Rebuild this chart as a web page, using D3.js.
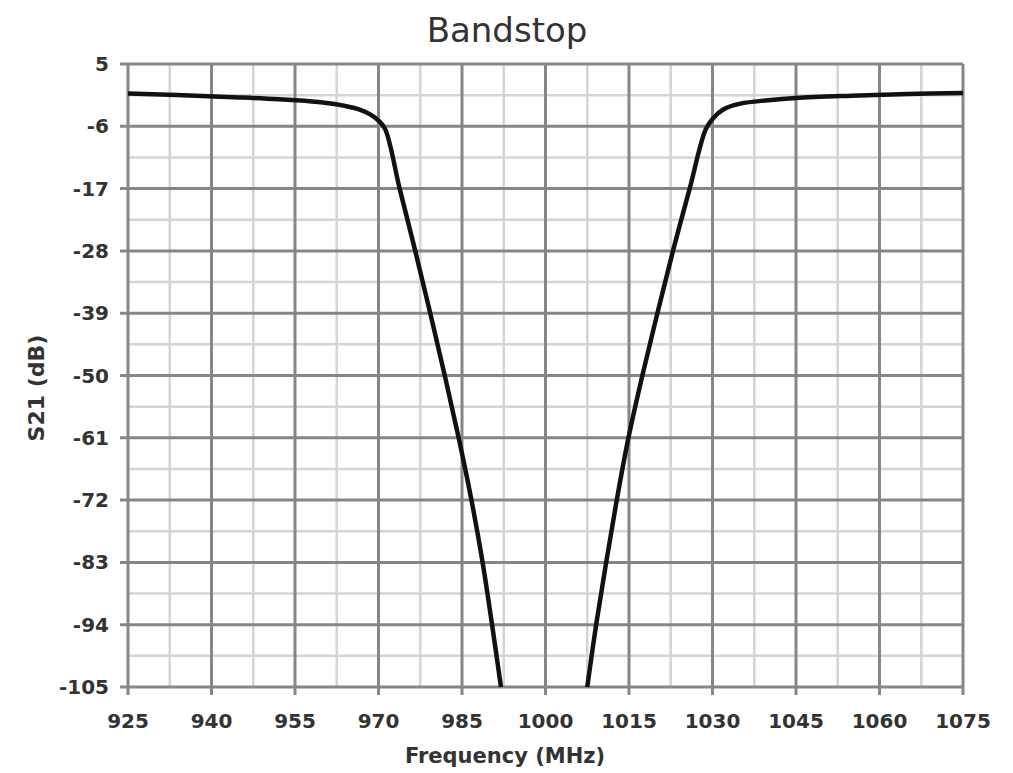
<!DOCTYPE html>
<html lang="en">
  <head>
    <meta charset="utf-8" />
    <title>Bandstop</title>
    <script src="https://d3js.org/d3.v7.min.js"></script>
    <style>
      body { margin: 0; background: #fff; }
      text { font-family: "DejaVu Sans", sans-serif; fill: #333; }
    </style>
  </head>
  <body>
    <svg id="chart" width="1013" height="773"></svg>
    <script>
    // data
    var freqs = [925, 935, 945, 955, 960, 964, 966.5, 968.5, 970, 971.2, 973.8, 976.6, 979.3, 981.9, 984.4, 986.7, 988.7, 990.4, 992];
    var s21 = [-0.2, -0.5, -0.9, -1.4, -1.8, -2.4, -3.0, -3.9, -5.0, -6.5, -17, -28, -39, -50, -61, -72, -83, -94, -105];
    var freqsHi = [1007.5, 1009.1, 1010.9, 1012.8, 1014.9, 1017.4, 1020.1, 1022.9, 1025.9, 1028.8, 1030.2, 1032, 1035, 1040, 1045, 1055, 1065, 1075];
    var s21Hi = [-105, -94, -83, -72, -61, -50, -39, -28, -17, -6.5, -4.5, -3.0, -2.0, -1.4, -1.0, -0.6, -0.3, -0.1];
    var xTicks = [925, 940, 955, 970, 985, 1000, 1015, 1030, 1045, 1060, 1075];
    var yTicks = [5, -6, -17, -28, -39, -50, -61, -72, -83, -94, -105];

    var svg = d3.select("#chart");
    // plot box (note: "top" is taken by window.top)
    var pLeft = 128, pRight = 963, pTop = 64, pBottom = 687;

    var x = d3.scaleLinear().domain([925, 1075]).range([pLeft, pRight]);
    var y = d3.scaleLinear().domain([-105, 5]).range([pBottom, pTop]);

    // minor grid (halfway between majors)
    var xMinor = xTicks.slice(1).map(function(t, i) { return (t + xTicks[i]) / 2; });
    var yMinor = yTicks.slice(1).map(function(t, i) { return (t + yTicks[i]) / 2; });

    var grid = svg.append("g");
    grid.selectAll(".xm").data(xMinor).enter().append("line")
      .attr("x1", d => x(d)).attr("x2", d => x(d))
      .attr("y1", pTop).attr("y2", pBottom)
      .attr("stroke", "#d4d4d4").attr("stroke-width", 2.5);
    grid.selectAll(".ym").data(yMinor).enter().append("line")
      .attr("x1", pLeft).attr("x2", pRight)
      .attr("y1", d => y(d)).attr("y2", d => y(d))
      .attr("stroke", "#d4d4d4").attr("stroke-width", 2.5);

    // major grid, sticking out a little like tick marks
    grid.selectAll(".xM").data(xTicks).enter().append("line")
      .attr("x1", d => x(d)).attr("x2", d => x(d))
      .attr("y1", pTop).attr("y2", pBottom + 8)
      .attr("stroke", "#868686").attr("stroke-width", 3);
    grid.selectAll(".yM").data(yTicks).enter().append("line")
      .attr("x1", pLeft - 8).attr("x2", pRight)
      .attr("y1", d => y(d)).attr("y2", d => y(d))
      .attr("stroke", "#868686").attr("stroke-width", 3);

    // tick labels
    svg.append("g").selectAll("text").data(xTicks).enter().append("text")
      .attr("x", d => x(d)).attr("y", 728)
      .attr("text-anchor", "middle")
      .style("font-size", "20px").style("font-weight", "bold")
      .text(d => d);
    svg.append("g").selectAll("text").data(yTicks).enter().append("text")
      .attr("x", 109).attr("y", d => y(d) + 7)
      .attr("text-anchor", "end")
      .style("font-size", "20px").style("font-weight", "bold")
      .text(d => d);

    // the curve
    var line = d3.line()
      .x(d => x(d[0])).y(d => y(d[1]))
      .curve(d3.curveCatmullRom.alpha(0.5));
    var lo = d3.zip(freqs, s21), hi = d3.zip(freqsHi, s21Hi);
    [lo, hi].forEach(function(pts) {
      svg.append("path").datum(pts)
        .attr("d", line)
        .attr("fill", "none")
        .attr("stroke", "#111")
        .attr("stroke-width", 4.5);
    });

    // titles
    svg.append("text").attr("x", 507).attr("y", 42)
      .attr("text-anchor", "middle").style("font-size", "34px")
      .text("Bandstop");
    svg.append("text").attr("x", 505).attr("y", 763)
      .attr("text-anchor", "middle").style("font-size", "21px").style("font-weight", "bold")
      .text("Frequency (MHz)");
    svg.append("text")
      .attr("transform", "translate(44,388) rotate(-90)")
      .attr("text-anchor", "middle").style("font-size", "22px").style("font-weight", "bold")
      .text("S21 (dB)");
    </script>
  </body>
</html>
